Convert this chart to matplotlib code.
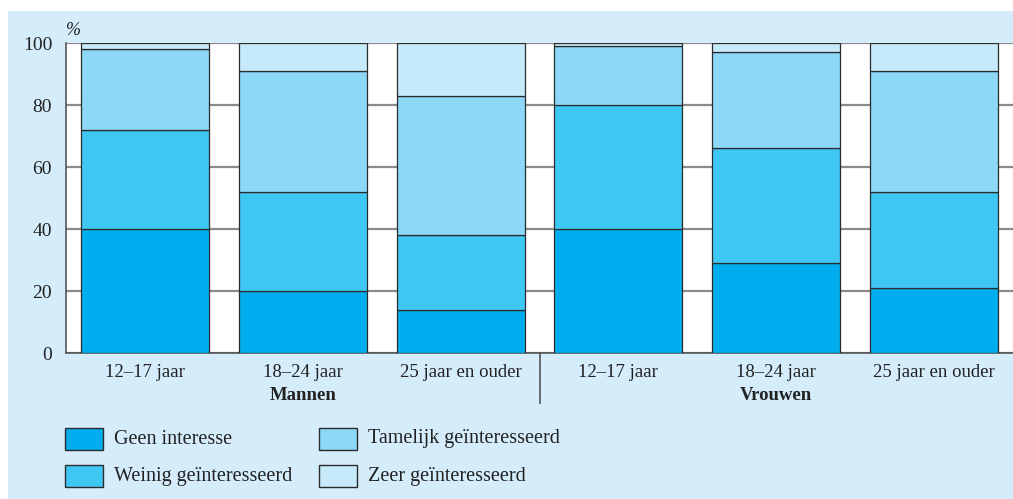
import matplotlib.pyplot as plt
from matplotlib.patches import Rectangle
from matplotlib.transforms import blended_transform_factory
import numpy as np

plt.rcParams['font.family'] = ['Liberation Serif', 'DejaVu Serif']

categories = ['12–17 jaar', '18–24 jaar', '25 jaar en ouder',
              '12–17 jaar', '18–24 jaar', '25 jaar en ouder']
groups = ['Mannen', 'Vrouwen']
series = ['Geen interesse', 'Weinig geïnteresseerd',
          'Tamelijk geïnteresseerd', 'Zeer geïnteresseerd']
geen = [40, 20, 14, 40, 29, 21]
weinig = [32, 32, 24, 40, 37, 31]
tamelijk = [26, 39, 45, 19, 31, 39]
zeer = [2, 9, 17, 1, 3, 9]
colors = ['#00aeef', '#3fc7f4', '#8dd8f7', '#c7eafa']
panel = '#d5edfb'

fig = plt.figure(figsize=(10.13, 4.99), dpi=100)
fig.patches.append(Rectangle((8 / 1013, 0), 1, 488 / 499, transform=fig.transFigure,
                             facecolor=panel, edgecolor='none', zorder=-10))

ax = fig.add_axes([66 / 1013, 146 / 499, 947 / 1013, 310 / 499])
ax.set_facecolor('white')

x = np.arange(len(categories))
bottom = np.zeros(len(categories))
for vals, c in zip([geen, weinig, tamelijk, zeer], colors):
    ax.bar(x, vals, width=0.81, bottom=bottom, color=c, edgecolor='#2b2b2b',
           linewidth=0.9, zorder=3)
    bottom += np.array(vals)

ax.set_xlim(-0.5, 5.5)
ax.set_ylim(0, 100)
ax.set_yticks([0, 20, 40, 60, 80, 100])
ax.yaxis.grid(True, color='#8a8a8a', linewidth=1.6, zorder=0)
ax.set_axisbelow(True)
ax.tick_params(axis='y', length=0, labelsize=14, pad=10, colors='#222222')
ax.tick_params(axis='x', length=0, labelsize=13.5, pad=8, colors='#222222')
ax.set_xticks(x)
ax.set_xticklabels(categories)
for s in ['top', 'right']:
    ax.spines[s].set_visible(False)
ax.spines['left'].set_color('#555555')
ax.spines['left'].set_linewidth(1.2)
ax.spines['bottom'].set_color('#555555')
ax.spines['bottom'].set_linewidth(1.2)

trans = blended_transform_factory(ax.transData, ax.transAxes)
ax.plot([2.5, 2.5], [0, -50 / 310], transform=trans, color='#555555',
        linewidth=1.2, clip_on=False)
ax.text(1, -42 / 310, groups[0], transform=trans, ha='center', va='center',
        fontsize=13.5, fontweight='bold', color='#222222')
ax.text(4, -42 / 310, groups[1], transform=trans, ha='center', va='center',
        fontsize=13.5, fontweight='bold', color='#222222')
ax.text(0, 1.04, '%', transform=ax.transAxes, ha='left', va='center',
        fontsize=13, style='italic', color='#222222')

# legend
pos = [(65, 428), (65, 465), (319, 428), (319, 465)]
for (px, py), c, lab in zip(pos, colors, series):
    fig.patches.append(Rectangle((px / 1013, (499 - py - 22) / 499), 38 / 1013, 22 / 499,
                                 transform=fig.transFigure, facecolor=c,
                                 edgecolor='#2b2b2b', linewidth=1.0))
    fig.text((px + 49) / 1013, (499 - py - 11) / 499, lab, ha='left', va='center',
             fontsize=14.5, color='#222222')

fig.savefig('out.png', dpi=100)
